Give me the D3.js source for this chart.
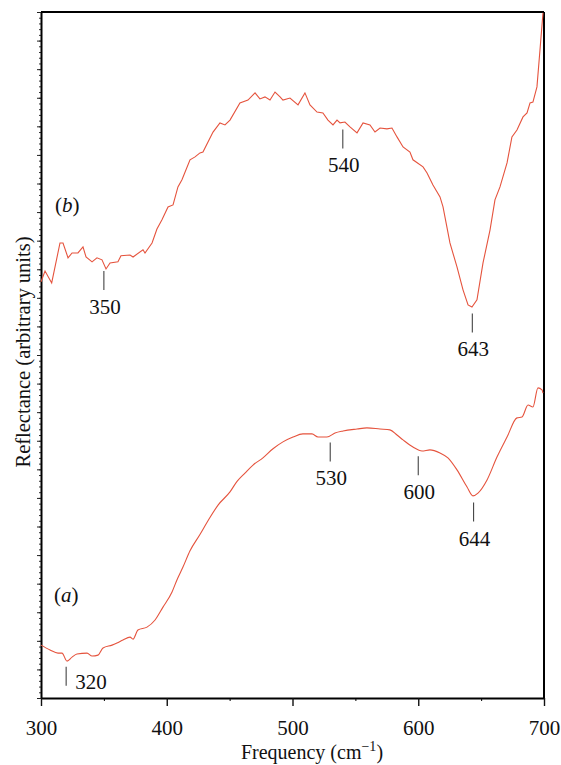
<!DOCTYPE html>
<html>
<head>
<meta charset="utf-8">
<script src="https://cdn.jsdelivr.net/npm/d3@7"></script>
<style>
  body { margin: 0; background: #fff; }
  text { font-family: "Liberation Serif", "Times New Roman", serif; fill: #111; }
</style>
</head>
<body>
<div id="chart"></div>
<script>
// set the dimensions and margins of the graph
var width = 561,
    height = 765;
var margin = {top: 12, right: 17, bottom: 67, left: 41};

// spectrum (b): frequency (cm-1) and reflectance (arbitrary units)
var freqB = [300, 303.2, 308.5, 315.1, 317.5, 321.5, 324.7, 329.4, 333.4, 335.8, 340.6, 344.5, 348.5, 351.7,
  354.9, 361.2, 363.6, 370.8, 373.2, 381.1, 382.7, 388.3, 392.2, 396.2, 401, 405, 408.9, 412.1, 418.5,
  422.5, 426.4, 428.8, 436.8, 442.3, 446.3, 450.3, 458.2, 464.6, 470.2, 474.1, 478.1, 482.1, 486.1,
  490.1, 492.4, 498, 504.4, 509.9, 513.9, 519.5, 524.2, 528.2, 532.2, 535.4, 537.8, 541.7, 545.7,
  551.3, 556.1, 561.6, 565.6, 569.6, 575.1, 579.1, 583.1, 587.9, 593.4, 595.8, 603.8, 607, 611.7,
  617.3, 619.7, 625.2, 630.8, 635.6, 639.6, 642.7, 646.7, 651.5, 657.1, 661, 665, 670.6, 674.5,
  678.5, 683.3, 686.5, 688.9, 691.2, 694.4, 696.8, 699.2];
var reflB = [14.56, 14.94, 14.52, 15.92, 15.92, 15.40, 15.57, 15.57, 15.78, 15.43, 15.26, 15.40, 15.33, 15.01,
  15.22, 15.26, 15.47, 15.50, 15.43, 15.68, 15.57, 15.92, 16.41, 16.73, 17.18, 17.25, 17.88, 18.13, 18.83,
  18.93, 19.07, 19.10, 19.80, 20.12, 20.05, 20.22, 20.82, 20.92, 21.17, 20.96, 21.03, 20.92, 21.20,
  21.03, 20.92, 20.99, 20.75, 21.17, 20.75, 20.50, 20.47, 20.22, 20.05, 20.22, 20.12, 20.15, 19.98,
  19.77, 20.12, 20.05, 19.80, 19.94, 19.91, 19.94, 19.63, 19.28, 19.10, 18.83, 18.58, 18.37, 17.95,
  17.53, 17.18, 15.92, 15.08, 14.28, 13.75, 13.68, 13.93, 15.22, 16.38, 17.43, 17.88, 18.72, 19.63,
  19.87, 20.33, 20.47, 20.82, 20.85, 21.38, 22.67, 23.97];

// spectrum (a)
var freqA = [300, 307.2, 313.5, 316.7, 320.7, 324.7, 328.6, 336.6, 340.6, 345.3, 349.3, 356.5, 360.4, 365.2,
  370.8, 373.2, 377.1, 384.3, 390.7, 397, 404.2, 408.1, 412.9, 418.5, 426.4, 432.8, 440.8, 450.3, 455.9,
  462.2, 468.6, 476.5, 484.5, 492.4, 500.4, 508.3, 515.5, 520.3, 527.4, 533.8, 540.2, 551.3, 559.2,
  569.6, 577.5, 583.1, 587.9, 595.8, 603, 609.3, 617.3, 623.6, 630.8, 638.8, 643.5, 647.5, 654.7,
  662.6, 670.6, 678.5, 682.5, 687.3, 691.2, 695.2, 698.4, 699.2];
var reflA = [1.85, 1.68, 1.57, 1.57, 1.29, 1.43, 1.54, 1.57, 1.47, 1.50, 1.75, 1.85, 1.92, 2.03,
  2.13, 2.06, 2.38, 2.48, 2.73, 3.18, 3.71, 4.13, 4.58, 5.15, 5.72, 6.20, 6.75, 7.21, 7.58,
  7.87, 8.15, 8.40, 8.72, 8.96, 9.13, 9.24, 9.24, 9.13, 9.13, 9.27, 9.34, 9.41, 9.45,
  9.41, 9.38, 9.20, 9.03, 8.78, 8.64, 8.68, 8.57, 8.40, 7.98, 7.38, 7.07, 7.17, 7.63,
  8.43, 9.13, 9.80, 9.83, 10.25, 10.18, 10.85, 10.78, 10.67];

// marked band positions
var peaksB = [350, 540, 643];
var peaksA = [320, 530, 600, 644];

var xTicks = [300, 400, 500, 600, 700];
var xMinor = [350, 450, 550, 650];

var svg = d3.select("#chart")
    .append("svg")
    .attr("width", width)
    .attr("height", height);

var x = d3.scaleLinear()
    .domain([300, 700])
    .range([margin.left, width - margin.right]);

var y = d3.scaleLinear()
    .domain([0, 24])
    .range([height - margin.bottom, margin.top]);

var lineColor = "#e5533d";

var line = d3.line()
    .x(function(d) { return x(d[0]); })
    .y(function(d) { return y(d[1]); });

var dataB = d3.zip(freqB, reflB),
    dataA = d3.zip(freqA, reflA);

// frame: top and right edges
svg.append("line")
    .attr("x1", x(300)).attr("x2", x(700))
    .attr("y1", y(24)).attr("y2", y(24))
    .attr("stroke", "#000").attr("stroke-width", 2);
svg.append("line")
    .attr("x1", x(700)).attr("x2", x(700))
    .attr("y1", y(24)).attr("y2", y(0))
    .attr("stroke", "#000").attr("stroke-width", 2);

// y axis: unlabeled major + minor ticks
var yMinor = d3.range(0, 121).map(function(i) { return i / 5; });
svg.append("g")
    .attr("transform", "translate(" + x(300) + ",0)")
    .call(d3.axisLeft(y).tickValues(yMinor).tickSize(2).tickFormat(""))
    .call(function(g) { g.select(".domain").remove(); })
    .selectAll("line").attr("stroke", "#333");
var yAxis = svg.append("g")
    .attr("transform", "translate(" + x(300) + ",0)")
    .call(d3.axisLeft(y).tickValues(d3.range(0, 25)).tickSize(4).tickSizeOuter(0).tickFormat(""));
yAxis.select(".domain").attr("stroke-width", 2).attr("stroke", "#000");
yAxis.selectAll("line").attr("stroke", "#222");

// x axis
svg.append("g")
    .attr("transform", "translate(0," + y(0) + ")")
    .call(d3.axisBottom(x).tickValues(xMinor).tickSize(3).tickFormat(""))
    .call(function(g) { g.select(".domain").remove(); });
var xAxis = svg.append("g")
    .attr("transform", "translate(0," + y(0) + ")")
    .call(d3.axisBottom(x).tickValues(xTicks).tickSize(8).tickSizeOuter(0).tickPadding(14)
      .tickFormat(d3.format("d")));
xAxis.select(".domain").attr("stroke-width", 2).attr("stroke", "#000");
xAxis.selectAll("line").attr("stroke-width", 1.4).attr("stroke", "#111");
xAxis.selectAll("text")
    .style("font-family", "'Liberation Serif', serif")
    .style("font-size", "21px")
    .attr("fill", "#111");

// spectra
svg.append("path")
    .datum(dataB)
    .attr("d", line)
    .attr("fill", "none")
    .attr("stroke", lineColor)
    .attr("stroke-width", 1.1);

svg.append("path")
    .datum(dataA)
    .attr("d", line.curve(d3.curveMonotoneX))
    .attr("fill", "none")
    .attr("stroke", lineColor)
    .attr("stroke-width", 1.1);

// band markers: short tick under the curve, wavenumber underneath
function valueAt(data, f) {
  for (var i = 1; i < data.length; i++) {
    if (data[i][0] >= f) {
      var t = (f - data[i-1][0]) / (data[i][0] - data[i-1][0]);
      return data[i-1][1] + t * (data[i][1] - data[i-1][1]);
    }
  }
  return data[data.length-1][1];
}

function markPeaks(data, peaks) {
  peaks.forEach(function(f) {
    var top = y(valueAt(data, f)) + 7;
    svg.append("line")
        .attr("x1", x(f)).attr("x2", x(f))
        .attr("y1", top).attr("y2", top + 19)
        .attr("stroke", "#444")
        .attr("stroke-width", 1.1);
    var side = (f === 320);
    svg.append("text")
        .attr("x", side ? x(f) + 9 : x(f) + 1)
        .attr("y", side ? top + 22 : top + 43)
        .attr("text-anchor", side ? "start" : "middle")
        .style("font-size", "21px")
        .text(f);
  });
}
markPeaks(dataB, peaksB);
markPeaks(dataA, peaksA);

// curve labels
function curveLabel(letter, px, py) {
  var t = svg.append("text")
      .attr("x", px)
      .attr("y", py)
      .style("font-size", "21px");
  t.append("tspan").text("(");
  t.append("tspan").style("font-style", "italic").text(letter);
  t.append("tspan").text(")");
}
curveLabel("b", 55, 212);
curveLabel("a", 54, 602);

// axis titles
var xt = svg.append("text")
    .attr("x", 312)
    .attr("y", 759)
    .attr("text-anchor", "middle")
    .style("font-size", "20px")
    .text("Frequency (cm");
xt.append("tspan").text("\u22121").attr("dy", -8).style("font-size", "14px");
xt.append("tspan").text(")").attr("dy", 8);

svg.append("text")
    .attr("transform", "translate(30,352) rotate(-90)")
    .attr("text-anchor", "middle")
    .style("font-size", "20.5px")
    .text("Reflectance (arbitrary units)");
</script>
</body>
</html>
